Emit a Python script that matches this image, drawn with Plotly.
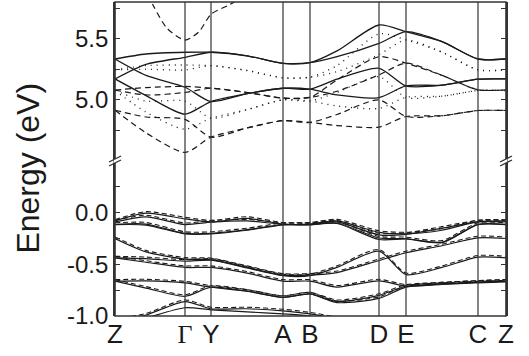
import plotly.graph_objects as go

# k-path positions (high-symmetry points) and labels
kpts = [0.0, 0.70, 0.96, 1.68, 1.95, 2.64, 2.91, 3.63, 3.91]
klabels = ["Z", "<span style='font-family:Liberation Serif'>Γ</span>", "Y", "A", "B", "D", "E", "C", "Z"]

# sampling k-grid used for band values
K = [0.0, 0.31, 0.70, 0.96, 1.32, 1.68, 1.95, 2.22, 2.64, 2.91, 3.27, 3.63, 3.91]

# ---- upper panel (conduction bands), eV ----
up_solid = [
    [5.334, 5.375, 5.389, 5.389, 5.360, 5.299, 5.304, 5.400, 5.612, 5.557, 5.476, 5.334, 5.334],
    [5.171, 5.290, 5.348, 5.389, 5.360, 5.299, 5.304, 5.353, 5.462, 5.557, 5.476, 5.334, 5.334],
    [5.334, 5.200, 5.103, 4.986, 5.050, 5.095, 5.087, 5.169, 5.258, 5.114, 5.120, 5.169, 5.171],
    [5.171, 5.035, 4.883, 4.986, 5.050, 5.095, 5.087, 5.040, 5.019, 5.114, 5.120, 5.169, 5.171],
]
up_dotted = [
    [5.245, 5.280, 5.285, 5.280, 5.240, 5.180, 5.185, 5.280, 5.540, 5.490, 5.390, 5.245, 5.245],
    [5.245, 5.250, 5.245, 5.280, 5.240, 5.180, 5.185, 5.230, 5.370, 5.490, 5.390, 5.245, 5.245],
    [5.076, 4.990, 4.990, 4.850, 4.920, 5.000, 4.990, 5.060, 5.190, 5.020, 5.030, 5.076, 5.076],
    [5.076, 4.900, 4.760, 4.850, 4.920, 5.000, 4.990, 4.950, 4.930, 5.020, 5.030, 5.076, 5.076],
]
up_dashed = [
    [5.080, 5.100, 5.110, 5.095, 5.060, 5.014, 5.020, 5.163, 5.353, 5.300, 5.200, 5.082, 5.082],
    [5.080, 5.040, 5.060, 5.095, 5.060, 5.014, 5.020, 5.070, 5.204, 5.300, 5.200, 5.082, 5.082],
    [4.915, 4.860, 4.840, 4.695, 4.770, 4.830, 4.815, 4.880, 5.000, 4.864, 4.870, 4.913, 4.913],
    [4.915, 4.730, 4.570, 4.695, 4.770, 4.830, 4.815, 4.790, 4.777, 4.864, 4.870, 4.913, 4.913],
]
par_k = [0.33, 0.39, 0.52, 0.70, 0.84, 0.96, 1.15, 1.25]
par_e = [5.86, 5.76, 5.585, 5.489, 5.557, 5.70, 5.78, 5.83]

# ---- lower panel (valence bands), eV ----
low_solid = [
    [-0.080, -0.005, -0.060, -0.090, -0.055, -0.110, -0.110, -0.080, -0.190, -0.205, -0.170, -0.087, -0.080],
    [-0.090, -0.040, -0.115, -0.092, -0.080, -0.113, -0.113, -0.090, -0.215, -0.210, -0.150, -0.090, -0.090],
    [-0.113, -0.110, -0.200, -0.200, -0.165, -0.116, -0.116, -0.100, -0.245, -0.252, -0.285, -0.113, -0.113],
    [-0.116, -0.120, -0.205, -0.205, -0.170, -0.118, -0.118, -0.105, -0.260, -0.255, -0.290, -0.116, -0.116],
    [-0.250, -0.380, -0.450, -0.455, -0.530, -0.605, -0.605, -0.580, -0.463, -0.388, -0.320, -0.243, -0.250],
    [-0.437, -0.445, -0.470, -0.460, -0.535, -0.610, -0.610, -0.530, -0.372, -0.599, -0.530, -0.430, -0.437],
    [-0.437, -0.480, -0.530, -0.530, -0.585, -0.663, -0.663, -0.720, -0.660, -0.712, -0.690, -0.673, -0.663],
    [-0.663, -0.660, -0.680, -0.722, -0.760, -0.819, -0.786, -0.860, -0.800, -0.712, -0.690, -0.673, -0.663],
    [-0.663, -0.730, -0.809, -0.722, -0.760, -0.819, -0.786, -0.870, -0.830, -0.720, -0.695, -0.680, -0.670],
    [-1.050, -0.990, -0.860, -0.930, -0.930, -0.950, -0.980, -1.030, -1.150, -1.150, -1.150, -1.150, -1.150],
    [-1.100, -1.020, -0.920, -0.940, -0.960, -0.980, -1.000, -1.050, -1.150, -1.150, -1.150, -1.150, -1.150],
]
low_dashed = [
    [-0.068, 0.010, -0.045, -0.075, -0.040, -0.095, -0.095, -0.065, -0.175, -0.190, -0.155, -0.072, -0.068],
    [-0.075, -0.025, -0.100, -0.077, -0.065, -0.098, -0.098, -0.075, -0.200, -0.195, -0.135, -0.075, -0.075],
    [-0.098, -0.095, -0.185, -0.185, -0.150, -0.101, -0.101, -0.085, -0.230, -0.237, -0.270, -0.098, -0.098],
    [-0.235, -0.365, -0.435, -0.440, -0.515, -0.590, -0.590, -0.565, -0.448, -0.373, -0.305, -0.228, -0.235],
    [-0.422, -0.430, -0.455, -0.445, -0.520, -0.595, -0.595, -0.515, -0.357, -0.584, -0.515, -0.415, -0.422],
    [-0.422, -0.465, -0.515, -0.515, -0.570, -0.648, -0.648, -0.705, -0.645, -0.697, -0.675, -0.658, -0.648],
    [-0.648, -0.645, -0.665, -0.707, -0.745, -0.804, -0.771, -0.845, -0.785, -0.697, -0.675, -0.658, -0.648],
    [-0.648, -0.715, -0.794, -0.707, -0.745, -0.804, -0.771, -0.855, -0.815, -0.705, -0.680, -0.665, -0.655],
    [-1.030, -0.975, -0.845, -0.915, -0.915, -0.935, -0.965, -1.015, -1.150, -1.150, -1.150, -1.150, -1.150],
]

INK = "#1a1a1a"
FRAME = "#333333"
FONT = "Liberation Sans, Arial, sans-serif"

fig = go.Figure()


def add_band(xs, ys, axis, dash, width):
    fig.add_trace(go.Scatter(
        x=xs, y=ys, mode="lines", yaxis=axis, hoverinfo="skip",
        line=dict(color=INK, width=width, dash=dash, shape="spline", smoothing=0.7),
    ))


for b in up_dotted:
    add_band(K, b, "y2", "1px,5px", 1.3)
for b in up_dashed:
    add_band(K, b, "y2", "6px,4px", 1.2)
add_band(par_k, par_e, "y2", "6px,4px", 1.2)
for b in up_solid:
    add_band(K, b, "y2", "solid", 1.3)

for b in low_dashed:
    add_band(K, b, "y", "5px,3px", 1.1)
for b in low_solid:
    add_band(K, b, "y", "solid", 1.2)

# domain split between the two energy windows
split = 155 / 314

shapes = []
for k in kpts[1:-1]:
    shapes.append(dict(type="line", xref="x", yref="paper", x0=k, x1=k, y0=0, y1=1,
                       line=dict(color=FRAME, width=1.2), layer="above"))
# frame
shapes.append(dict(type="rect", xref="paper", yref="paper", x0=0, x1=1, y0=0, y1=1,
                   line=dict(color=FRAME, width=1.6), layer="above"))
# axis break marks
px = 1 / 391
py = 1 / 314
for xe in (0.0, 1.0):
    shapes.append(dict(type="line", xref="paper", yref="paper", x0=xe, x1=xe,
                       y0=split - 2 * py, y1=split + 2 * py,
                       line=dict(color="white", width=3), layer="above"))
    for off in (-2.0, 2.0):
        shapes.append(dict(type="line", xref="paper", yref="paper",
                           x0=xe - 6 * px, x1=xe + 6 * px,
                           y0=split + (off - 3) * py, y1=split + (off + 3) * py,
                           line=dict(color=FRAME, width=1.3), layer="above"))

fig.update_layout(
    width=529, height=356,
    margin=dict(l=115, r=23, t=2, b=40),
    plot_bgcolor="white", paper_bgcolor="white",
    showlegend=False,
    font=dict(family=FONT, color=INK),
    shapes=shapes,
    xaxis=dict(range=[0, 3.91], tickvals=kpts, ticktext=klabels, ticks="",
               showgrid=False, zeroline=False, showline=False,
               tickfont=dict(size=26, family=FONT, color=INK)),
    yaxis=dict(domain=[0, split], range=[-1.0, 0.5],
               tickvals=[-1.0, -0.5, 0.0], ticktext=["-1.0", "-0.5", "0.0"],
               ticks="inside", ticklen=5, tickwidth=1.3, tickcolor=FRAME,
               minor=dict(tickvals=[-0.75, -0.25, 0.25], ticks="inside", ticklen=5,
                          tickwidth=1.3, tickcolor=FRAME, showgrid=False),
               showline=True, linecolor=FRAME, linewidth=1.6, mirror="ticks",
               showgrid=False, zeroline=False,
               tickfont=dict(size=24, family=FONT, color=INK)),
    yaxis2=dict(domain=[split, 1], range=[4.5, 5.8], anchor="x",
                tickvals=[5.0, 5.5], ticktext=["5.0", "5.5"],
                ticks="inside", ticklen=5, tickwidth=1.3, tickcolor=FRAME,
                minor=dict(tickvals=[4.75, 5.25, 5.75], ticks="inside", ticklen=5,
                           tickwidth=1.3, tickcolor=FRAME, showgrid=False),
                showline=True, linecolor=FRAME, linewidth=1.6, mirror="ticks",
                showgrid=False, zeroline=False,
                tickfont=dict(size=24, family=FONT, color=INK)),
    annotations=[dict(text="Energy (eV)", xref="paper", yref="paper",
                      x=-0.222, y=0.47, xanchor="center", yanchor="middle",
                      textangle=-90, showarrow=False,
                      font=dict(size=32, family=FONT, color=INK))],
)

fig.write_html("out.html")
